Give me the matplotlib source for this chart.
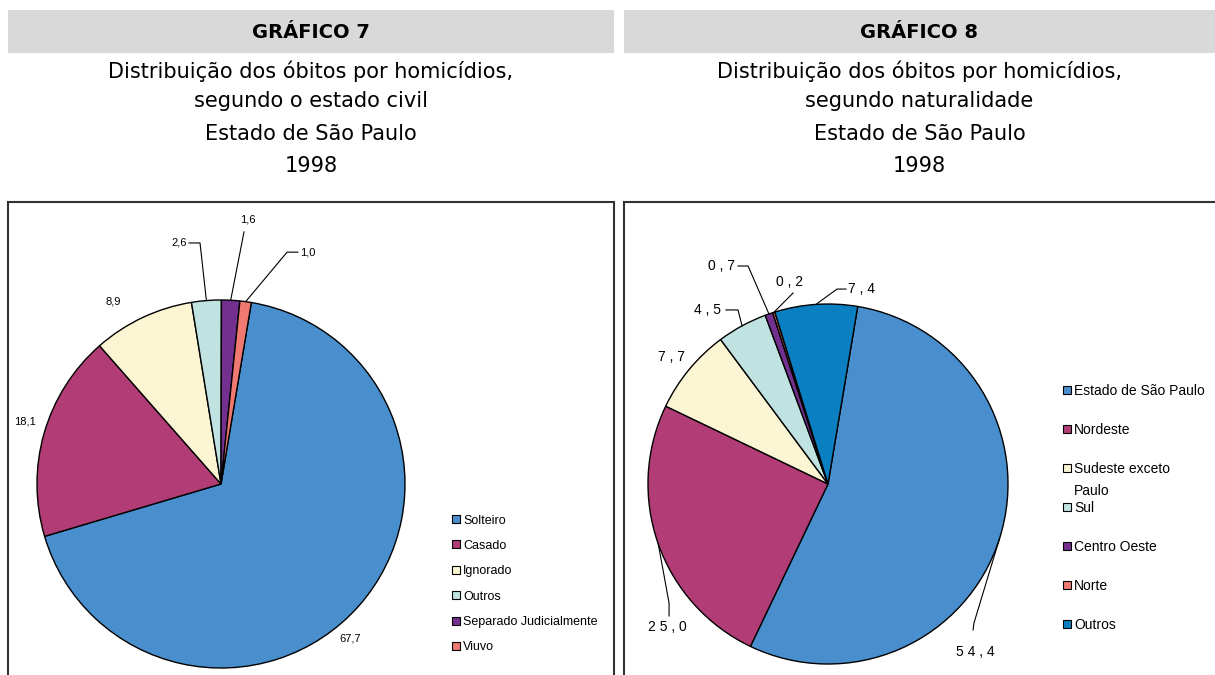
import matplotlib
matplotlib.use("Agg")
import matplotlib.pyplot as plt
from matplotlib.patches import Rectangle
import numpy as np

# dados
civil_labels = ["Solteiro", "Casado", "Ignorado", "Outros", "Separado Judicialmente", "Viuvo"]
civil_values = [67.7, 18.1, 8.9, 2.6, 1.6, 1.0]
civil_colors = ["#4A8FCD", "#B23D76", "#FBF5D3", "#C0E3E1", "#74308F", "#F07A72"]

nat_labels = ["Estado de São Paulo", "Nordeste", "Sudeste exceto\nPaulo", "Sul",
              "Centro Oeste", "Norte", "Outros"]
nat_values = [54.4, 25.0, 7.7, 4.5, 0.7, 0.2, 7.4]
nat_colors = ["#4A8FCD", "#B23D76", "#FBF5D3", "#C0E3E1", "#74308F", "#F07A72", "#0A7FC2"]

title7 = ["Distribuição dos óbitos por homicídios,", "segundo o estado civil",
          "Estado de São Paulo", "1998"]
title8 = ["Distribuição dos óbitos por homicídios,", "segundo naturalidade",
          "Estado de São Paulo", "1998"]

TITLE_FONT = ["DejaVu Sans"]
LABEL_FONT = ["Liberation Sans", "DejaVu Sans"]

W, H = 1215, 675
fig = plt.figure(figsize=(W / 100, H / 100), dpi=100)


def fx(px):
    return px / W


def fy(py):
    return 1 - py / H


def header(x0, x1, num, lines):
    fig.add_artist(Rectangle((fx(x0), fy(53)), fx(x1) - fx(x0), fy(10) - fy(53),
                             transform=fig.transFigure, color="#D9D9D9", lw=0))
    cx = (x0 + x1) / 2
    fig.text(fx(cx), fy(32), "GRÁFICO %d" % num, ha="center", va="center",
             fontsize=14, fontweight="bold", family=TITLE_FONT)
    for line, yb in zip(lines, [78, 107, 140, 172]):
        fig.text(fx(cx), fy(yb), line, ha="center", va="baseline",
                 fontsize=15, family=TITLE_FONT)


def frame(x0, x1):
    fig.add_artist(Rectangle((fx(x0), fy(720)), fx(x1) - fx(x0), fy(202) - fy(720),
                             transform=fig.transFigure, fill=False,
                             edgecolor="#333333", lw=1.5))


def pie_panel(cx, cy, r, values, colors, texts, fontsize):
    ax = fig.add_axes([fx(cx - r), fy(cy + r), 2 * r / W, 2 * r / H])
    wedges, _ = ax.pie(values, colors=colors, startangle=80.5, counterclock=False,
                       wedgeprops=dict(edgecolor="black", linewidth=1))
    ax.set_xlim(-1, 1)
    ax.set_ylim(-1, 1)
    for w in wedges:
        w.set_clip_on(False)
    for w, (txt, pos, ha, lead) in zip(wedges, texts):
        ax.text(pos[0], pos[1], txt, ha=ha, va="center", fontsize=fontsize,
                family=LABEL_FONT)
        if lead:
            mid = np.deg2rad((w.theta1 + w.theta2) / 2)
            xs = [np.cos(mid)] + [p[0] for p in lead]
            ys = [np.sin(mid)] + [p[1] for p in lead]
            ax.plot(xs, ys, color="black", lw=0.8, clip_on=False)
    return ax


def legend(x_sq, y0, step, size, labels, colors, fontsize, line_gap=22):
    cap = fontsize * 100 / 72 * 0.72
    for i, (lab, col) in enumerate(zip(labels, colors)):
        y = y0 + i * step
        fig.add_artist(Rectangle((fx(x_sq), fy(y + size / 2)), size / W, size / H,
                                 transform=fig.transFigure, facecolor=col,
                                 edgecolor="black", lw=0.8))
        for k, part in enumerate(lab.split("\n")):
            fig.text(fx(x_sq + size + 3), fy(y + cap / 2 + k * line_gap), part,
                     ha="left", va="baseline", fontsize=fontsize, family=LABEL_FONT)


def fmt(v, spaced=False):
    s = ("%.1f" % v).replace(".", ",")
    return " ".join(s) if spaced else s


# Gráfico 7
header(8, 614, 7, title7)
frame(7.5, 614)
civ_txt = [
    (fmt(civil_values[0]), (0.70, -0.84), "center", None),
    (fmt(civil_values[1]), (-1.065, 0.34), "center", None),
    (fmt(civil_values[2]), (-0.587, 0.99), "center", None),
    (fmt(civil_values[3]), (-0.185, 1.31), "right", [(-0.114, 1.31), (-0.174, 1.31)]),
    (fmt(civil_values[4]), (0.147, 1.435), "center", [(0.125, 1.37)]),
    (fmt(civil_values[5]), (0.429, 1.26), "left", [(0.359, 1.26), (0.418, 1.26)]),
]
pie_panel(221, 484, 184, civil_values, civil_colors, civ_txt, 8)
legend(452, 519, 25.4, 8, civil_labels, civil_colors, 9)

# Gráfico 8
header(624, 1215, 8, title8)
frame(624, 1230)
nat_txt = [
    (fmt(nat_values[0], True), (0.817, -0.933), "center", [(0.811, -0.772), (0.806, -0.811)]),
    (fmt(nat_values[1], True), (-0.894, -0.794), "center", [(-0.883, -0.661), (-0.883, -0.733)]),
    (fmt(nat_values[2], True), (-0.867, 0.706), "center", None),
    (fmt(nat_values[3], True), (-0.594, 0.967), "right", [(-0.5, 0.967), (-0.567, 0.967)]),
    (fmt(nat_values[4], True), (-0.517, 1.211), "right", [(-0.444, 1.211), (-0.5, 1.211)]),
    (fmt(nat_values[5], True), (-0.211, 1.122), "center", [(-0.194, 1.061)]),
    (fmt(nat_values[6], True), (0.111, 1.083), "left", [(0.05, 1.083), (0.1, 1.083)]),
]
pie_panel(828, 484, 180, nat_values, nat_colors, nat_txt, 10)
legend(1063, 390, 39, 8, nat_labels, nat_colors, 10)

fig.savefig("out.png", dpi=100)
